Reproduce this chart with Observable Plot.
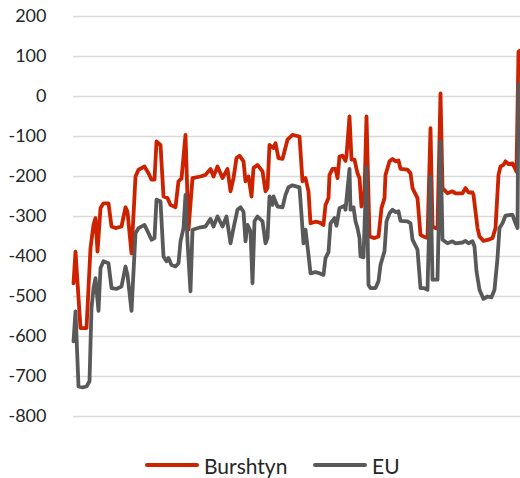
<!DOCTYPE html>
<html>
<head>
<meta charset="utf-8">
<script src="https://cdn.jsdelivr.net/npm/d3@7"></script>
<script src="https://cdn.jsdelivr.net/npm/@observablehq/plot@0.6"></script>
<style>
  body { margin: 0; background: #fff; font-family: Lato, "Open Sans", sans-serif; }
  #wrap { position: relative; width: 520px; height: 478px; }
  .legend { position: absolute; top: 452px; left: 0; width: 520px; height: 26px; font-size: 21px; color: #262626; }
  .item { position: absolute; top: 0; display: flex; align-items: center; height: 26px; }
  .sw { display: inline-block; width: 54px; height: 4px; border-radius: 2px; margin-right: 5px; }
</style>
</head>
<body>
<div id="wrap"></div>
<script>
const seriesNames = ["Burshtyn", "EU"];
const seriesColors = ["#cc2200", "#595959"];
const yTicks = [200, 100, 0, -100, -200, -300, -400, -500, -600, -700, -800];

const burshtynDay = [0,2,7,13,17,20,22,24,27,30,35,38,42,48,52,54,58,62,65,71,75,78,81,83,87,90,94,97,102,105,108,112,115,119,127,132,137,140,144,149,154,157,160,163,166,170,172,175,178,180,184,189,192,194,196,200,202,205,209,214,219,226,229,232,235,237,242,246,250,252,255,256,259,262,264,266,269,272,273,276,278,281,284,286,288,291,293,296,301,305,308,311,312,316,319,322,325,327,334,337,339,344,347,350,354,357,359,362,364,367,369,374,379,382,389,392,395,399,400,404,406,410,415,419,422,425,427,430,432,435,439,443,445,447];
const burshtynVal = [-467,-388,-579,-579,-379,-321,-304,-388,-279,-267,-267,-325,-329,-325,-277,-288,-392,-200,-183,-175,-192,-208,-208,-112,-121,-250,-254,-271,-277,-212,-205,-96,-333,-204,-200,-196,-181,-200,-175,-204,-181,-237,-204,-154,-148,-162,-212,-200,-250,-179,-171,-187,-237,-229,-121,-129,-117,-154,-156,-108,-96,-100,-212,-204,-237,-317,-313,-315,-321,-271,-254,-196,-181,-181,-204,-150,-148,-161,-148,-50,-158,-158,-192,-204,-275,-237,-50,-350,-354,-350,-279,-254,-196,-162,-156,-162,-160,-181,-183,-192,-229,-254,-346,-350,-354,-79,-325,-329,-329,8,-229,-242,-237,-242,-242,-229,-240,-240,-246,-329,-350,-361,-358,-354,-329,-196,-175,-171,-162,-169,-167,-188,112,115];

const euDay = [0,2,5,9,13,16,18,20,22,25,27,30,35,38,43,48,52,54,58,62,65,71,75,78,81,83,87,90,93,95,98,102,105,107,110,112,114,117,119,127,132,137,140,144,149,153,157,160,164,167,170,172,174,177,179,181,184,189,192,194,196,199,200,204,209,212,215,219,226,228,230,232,235,237,242,246,250,252,255,257,261,263,266,271,272,276,277,280,282,284,286,287,290,293,295,297,302,305,307,311,313,316,319,322,325,327,334,337,339,344,347,350,354,357,359,364,367,369,374,379,382,389,392,395,399,401,403,406,410,414,418,421,424,426,429,432,437,439,442,444,445,447];
const euVal = [-612,-537,-725,-727,-725,-712,-529,-479,-454,-536,-429,-412,-417,-479,-481,-475,-425,-446,-536,-342,-329,-321,-342,-358,-354,-258,-262,-400,-412,-404,-421,-425,-417,-362,-329,-246,-362,-487,-333,-327,-325,-306,-325,-300,-325,-300,-367,-329,-283,-277,-288,-362,-321,-337,-467,-312,-300,-312,-367,-354,-250,-271,-250,-275,-277,-246,-227,-222,-227,-296,-367,-333,-396,-442,-439,-442,-446,-404,-389,-317,-304,-323,-279,-273,-283,-181,-283,-277,-312,-329,-354,-400,-402,-177,-471,-479,-479,-462,-421,-387,-312,-292,-283,-289,-287,-311,-312,-317,-358,-383,-479,-479,-483,-200,-458,-458,-112,-358,-367,-362,-367,-365,-361,-367,-362,-375,-437,-483,-506,-500,-502,-483,-404,-329,-317,-298,-296,-296,-317,-329,29,33];

const rows = [
  ...burshtynDay.map((d, i) => ({day: d, value: burshtynVal[i], series: seriesNames[0]})),
  ...euDay.map((d, i) => ({day: d, value: euVal[i], series: seriesNames[1]}))
];

const chart = Plot.plot({
  width: 520,
  height: 440,
  marginLeft: 73,
  marginRight: 0,
  marginTop: 16,
  marginBottom: 24,
  style: {fontFamily: "Lato, 'Open Sans', sans-serif", fontSize: "18px", color: "#262626", background: "#fff"},
  x: {domain: [0, 447], axis: null},
  y: {domain: [-800, 200], ticks: yTicks, tickSize: 0, tickPadding: 27, label: null, tickFormat: d => String(d)},
  color: {domain: seriesNames, range: seriesColors},
  marks: [
    Plot.gridY(yTicks, {stroke: "#d9d9d9", strokeOpacity: 1, strokeWidth: 1.5}),
    Plot.axisY(yTicks, {tickSize: 0, tickPadding: 27, label: null, fontSize: 18, fill: "#262626", tickFormat: d => String(d)}),
    Plot.line(rows, {x: "day", y: "value", z: "series", stroke: "series", strokeWidth: 3.8, strokeLinejoin: "round", strokeLinecap: "round"})
  ]
});

const wrap = document.getElementById("wrap");
wrap.appendChild(chart);

const legend = document.createElement("div");
legend.className = "legend";
const lefts = [145, 313];
seriesNames.forEach((name, i) => {
  const item = document.createElement("div");
  item.className = "item";
  item.style.left = lefts[i] + "px";
  const sw = document.createElement("span");
  sw.className = "sw";
  sw.style.background = seriesColors[i];
  const label = document.createElement("span");
  label.textContent = name;
  item.appendChild(sw);
  item.appendChild(label);
  legend.appendChild(item);
});
wrap.appendChild(legend);
</script>
</body>
</html>
